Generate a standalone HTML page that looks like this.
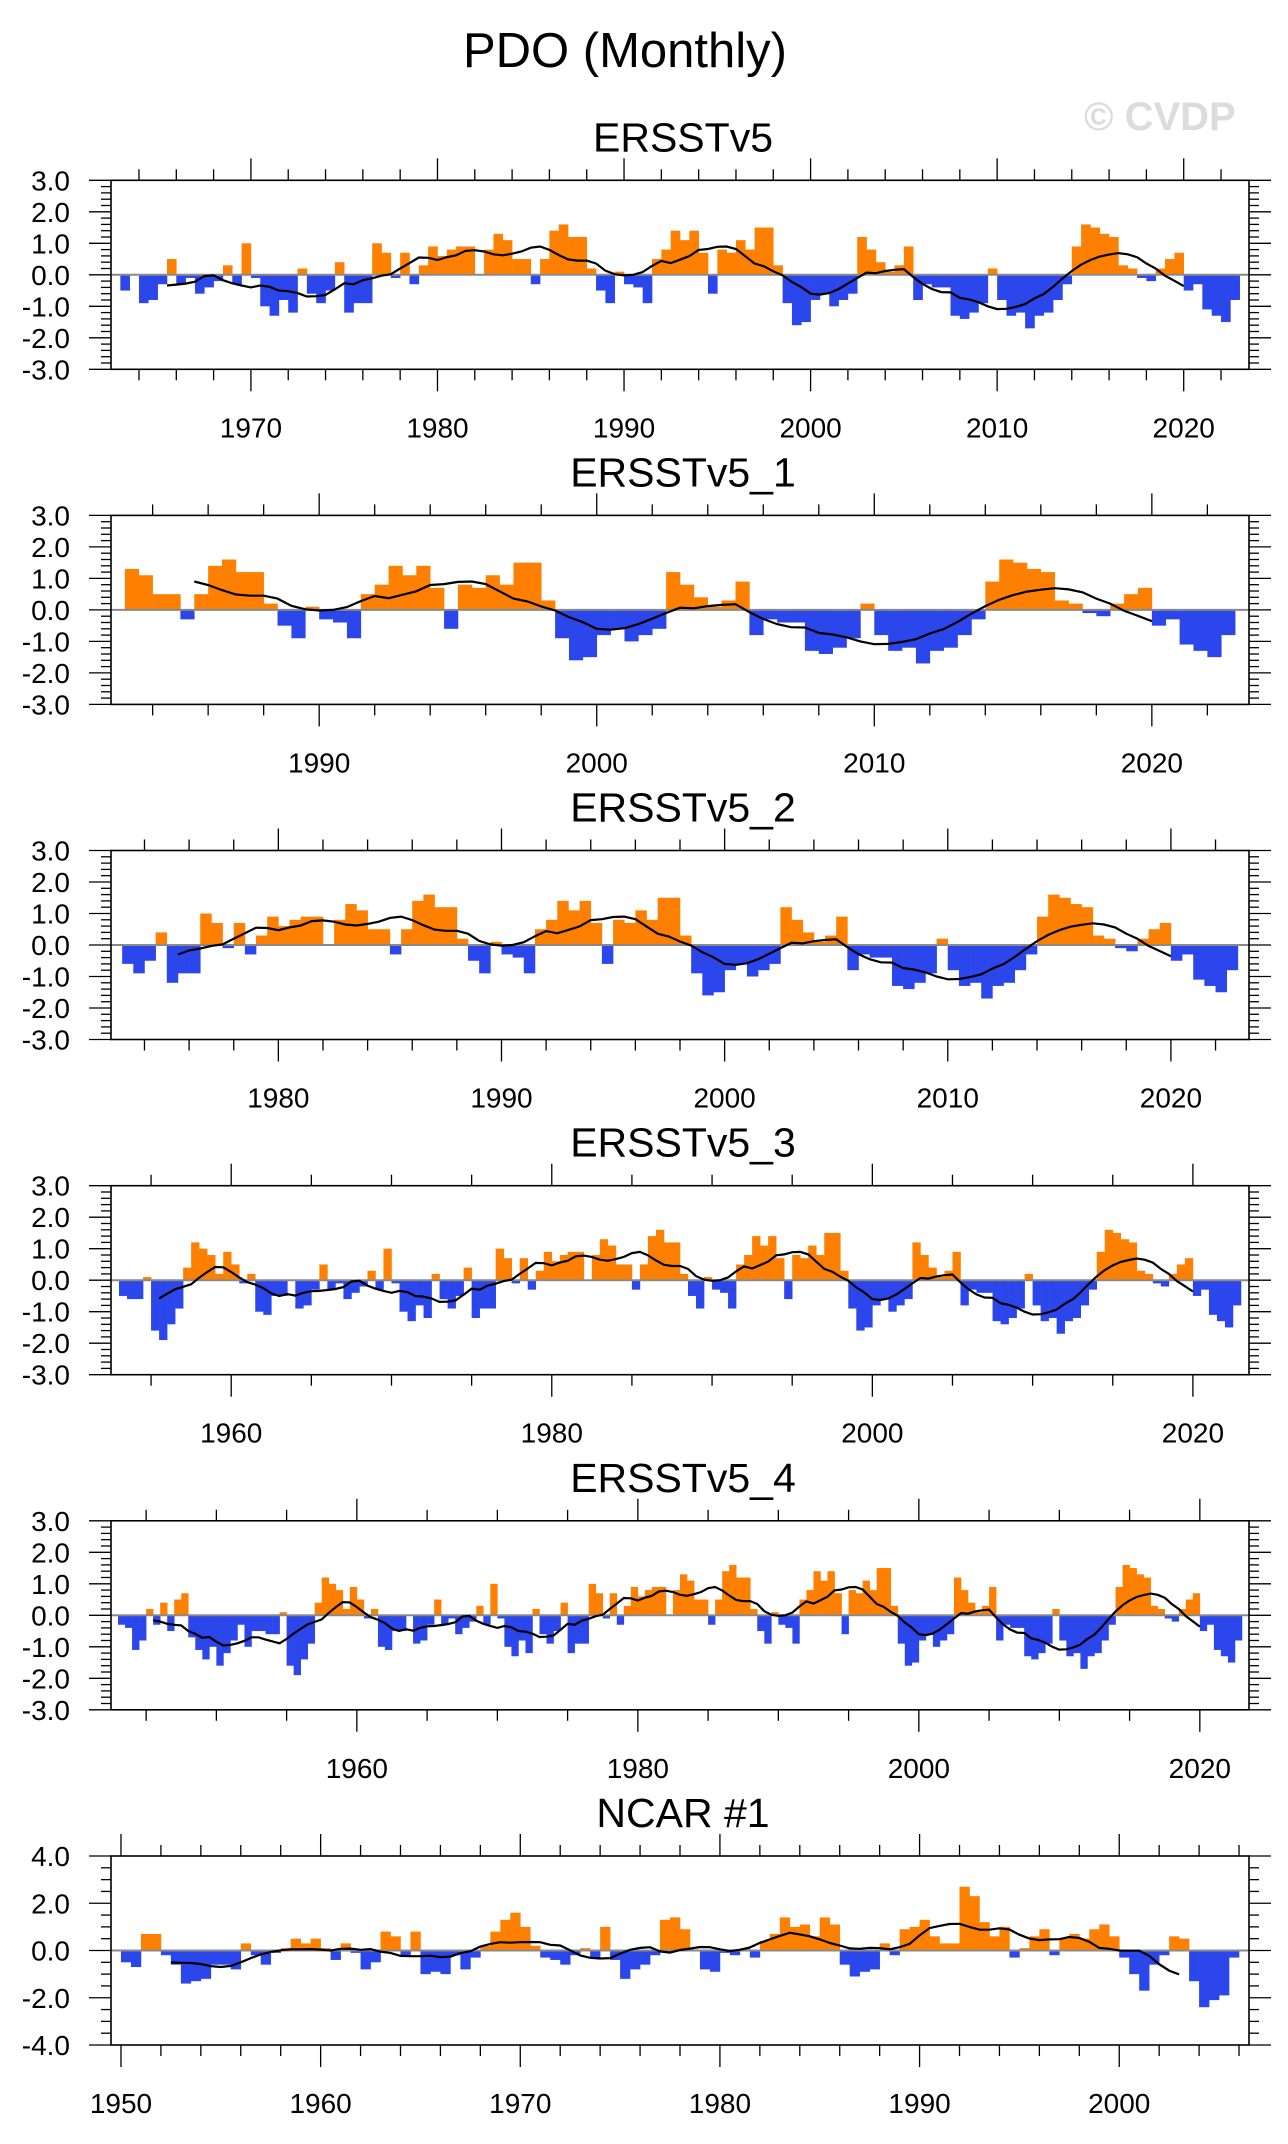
<!DOCTYPE html>
<html><head><meta charset="utf-8">
<style>
html,body{margin:0;padding:0;background:#fff;}
svg{display:block;font-family:"Liberation Sans",Arial,sans-serif;}
</style></head>
<body>
<svg id="chart" width="1288" height="2144" viewBox="0 0 1288 2144" xmlns="http://www.w3.org/2000/svg">
<text x="625" y="67" font-size="49" text-anchor="middle" fill="#000">PDO (Monthly)</text>
<text x="1084" y="130" font-size="40" font-weight="bold" fill="#dcdcdc">© CVDP</text>
</svg>
<script>
// ERSST v5 PDO, half-year values starting 1943.0
const ersstStart = 1943.0;
const ersstValues = [
-0.3,-0.4,-1.1,-0.8,0.2,-0.3,0.4,-0.5,0.5,0.7,-0.7,-1.1,-1.4,-1.0,-1.6,-1.2,-0.8,-0.3,-1.0,-0.5,
-0.5,-0.6,-0.6,0.1,-1.6,-1.9,-1.4,-0.9,0.4,1.2,1.0,0.8,0.2,0.9,0.5,-0.1,0.2,-1.0,-1.1,-0.5,
-0.5,0.0,-0.9,-0.8,-0.3,0.5,-0.3,-0.1,-0.6,-0.4,-0.2,0.3,-0.3,1.0,-0.1,-1.0,-1.3,-0.8,-1.2,0.2,
-0.6,-0.9,-0.5,0.4,-1.2,-0.9,-0.9,1.0,0.7,-0.1,0.7,-0.3,0.3,0.9,0.6,0.8,0.9,0.9,0.0,0.8,
1.3,1.1,0.5,0.5,-0.3,0.5,1.4,1.6,1.2,1.2,0.2,-0.5,-0.9,0.1,-0.3,-0.4,-0.9,0.5,0.8,1.4,
1.1,1.4,0.7,-0.6,0.8,0.7,1.1,0.8,1.5,1.5,0.3,-0.9,-1.6,-1.5,-0.8,-0.6,-1.0,-0.8,-0.6,1.2,0.8,
0.4,0.1,0.3,0.9,-0.8,-0.3,-0.4,-0.4,-1.3,-1.4,-1.2,-0.9,0.2,-0.8,-1.3,-1.2,-1.7,-1.3,-1.2,-0.8,
-0.3,0.9,1.6,1.5,1.3,1.2,0.3,0.2,-0.1,-0.2,0.2,0.5,0.7,-0.5,-0.3,-1.1,-1.3,-1.5,-0.8
];
// NCAR #1 PDO, half-year values starting 1950.0
const ncarStart = 1950.0;
const ncarValues = [
-0.5,-0.7,0.7,0.7,-0.2,-0.6,-1.4,-1.3,-1.2,-0.6,-0.6,-0.8,0.3,-0.2,-0.6,-0.1,0.1,0.5,0.3,0.5,
0.1,-0.4,0.3,-0.1,-0.8,-0.5,0.8,0.6,-0.2,0.8,-1.0,-0.9,-1.0,-0.2,-0.8,-0.3,0.2,0.8,1.3,1.6,
1.0,0.2,-0.3,-0.4,-0.6,-0.2,0.1,-0.3,1.0,-0.4,-1.2,-0.8,-0.6,-0.2,1.3,1.4,
0.9,0.0,-0.8,-0.9,-0.1,-0.2,0.1,-0.3,0.4,0.7,1.4,1.0,1.1,0.6,1.4,1.1,-0.6,-1.1,-0.9,-0.8,
0.3,-0.2,0.9,1.0,1.3,0.6,0.3,0.3,2.7,2.3,1.2,0.6,1.0,-0.3,0.1,0.6,0.9,-0.2,0.5,0.7,
0.5,0.9,1.1,0.6,-0.3,-1.0,-1.7,-0.6,-0.2,0.6,0.5,-1.3,-2.4,-2.1,-1.9,-0.3
];
const panelTitles = ["ERSSTv5","ERSSTv5_1","ERSSTv5_2","ERSSTv5_3","ERSSTv5_4","NCAR #1"];
const panelStartYears = [1963,1983,1973,1953,1943,1950];
const panelEndYears = [2023,2023,2023,2023,2023,2006];
const ersstYTicks = [3,2,1,0,-1,-2,-3];
const ersstYLabels = ["3.0","2.0","1.0","0.0","-1.0","-2.0","-3.0"];
const ncarYTicks = [4,2,0,-2,-4];
const ncarYLabels = ["4.0","2.0","0.0","-2.0","-4.0"];
const xLabelSets = [
 [1970,1980,1990,2000,2010,2020],
 [1990,2000,2010,2020],
 [1980,1990,2000,2010,2020],
 [1960,1980,2000,2020],
 [1960,1980,2000,2020],
 [1950,1960,1970,1980,1990,2000]
];
const minorSteps = [2,2,2,5,5,2];
const majorSteps = [10,10,10,20,20,10];

const NS="http://www.w3.org/2000/svg";
const svg=document.getElementById('chart');
function mk(tag,attrs,parent){const e=document.createElementNS(NS,tag);for(const k in attrs)e.setAttribute(k,attrs[k]);(parent||svg).appendChild(e);return e;}

const L=111,R=1249,H=189;
const tops=[180.3,515.4,850.5,1185.7,1520.8,1856.0];

for(let p=0;p<6;p++){
  const isN=p===5;
  const vals=isN?ncarValues:ersstValues;
  const s0=isN?ncarStart:ersstStart;
  const start=panelStartYears[p], end=panelEndYears[p];
  const x0=start-0.5, x1=isN?2006.5:2023.5;
  const ymax=isN?4:3;
  const top=tops[p], bot=top+H;
  const xs=y=>L+(y-x0)/(x1-x0)*(R-L);
  const ys=v=>top+(ymax-v)/(2*ymax)*H;
  const g=mk('g',{});
  
  
  const t=mk('text',{x:683,y:top-29,'font-size':41,'text-anchor':'middle',fill:'#000'},g);
  t.textContent=panelTitles[p];
  
  
  const bars=mk('g',{},g);
  
  
  const idx=[];
  for(let i=0;i<vals.length;i++){const yr=s0+i*0.5;if(yr>=start&&yr<end)idx.push(i);}
  for(const i of idx){
    const yr=s0+i*0.5,v=vals[i];
    const xa=xs(yr),xb=xs(yr+0.5);
    const ya=ys(Math.max(v,0)),yb=ys(Math.min(v,0));
    const r=mk('rect',{x:xa.toFixed(2),y:ya.toFixed(2),width:(xb-xa+0.3).toFixed(2),height:Math.max(0,yb-ya).toFixed(2),fill:v>=0?'#ff8000':'#2b46ea'},bars);
    
    
  }
  const zl=mk('line',{x1:L,x2:R,y1:ys(0),y2:ys(0),stroke:'#8a8a8a','stroke-width':2},g);
  
  
  let pts=[];
  for(let k=5;k<idx.length-5;k++){
    let sum=0;for(let j=k-5;j<k+5;j++)sum+=vals[idx[j]];
    const yr=s0+idx[k]*0.5;
    pts.push(xs(yr).toFixed(1)+','+ys(sum/10).toFixed(1));
  }
  const pl=mk('polyline',{points:pts.join(' '),fill:'none',stroke:'#000','stroke-width':2.2},g);
  
  
  const bx=mk('rect',{x:L,y:top,width:R-L,height:H,fill:'none',stroke:'#000','stroke-width':1.6},g);
  
  
  const ms=minorSteps[p], Ms=majorSteps[p];
  for(let yr=Math.ceil(x0/ms)*ms; yr<=x1; yr+=ms){
    const x=xs(yr); const maj=yr%Ms===0; const len=maj?22:11;
    mk('line',{x1:x,x2:x,y1:top,y2:top-len,stroke:'#000','stroke-width':1.3},g);
    mk('line',{x1:x,x2:x,y1:bot,y2:bot+len,stroke:'#000','stroke-width':1.3},g);
  }
  for(const yr of xLabelSets[p]){
    const tl=mk('text',{x:xs(yr),y:bot+68,'font-size':28,'text-anchor':'middle',fill:'#000'},g);
    tl.textContent=String(yr);
    
    
  }
  const yminor=isN?0.5:0.2;
  const nmin=Math.round(2*ymax/yminor);
  for(let k=0;k<=nmin;k++){
    const v=-ymax+k*yminor; const y=ys(v);
    const maj=Math.abs(v-Math.round(v/(isN?2:1))*(isN?2:1))<1e-6;
    const len=maj?22:10;
    mk('line',{x1:L,x2:L-len,y1:y,y2:y,stroke:'#000','stroke-width':1.3},g);
    mk('line',{x1:R,x2:R+len,y1:y,y2:y,stroke:'#000','stroke-width':1.3},g);
  }
  const yt=isN?ncarYTicks:ersstYTicks, yl=isN?ncarYLabels:ersstYLabels;
  for(let k=0;k<yt.length;k++){
    const tl=mk('text',{x:70,y:ys(yt[k])+10,'font-size':28,'text-anchor':'end',fill:'#000'},g);
    tl.textContent=yl[k];
    
    
  }
}
</script>
</body></html>
